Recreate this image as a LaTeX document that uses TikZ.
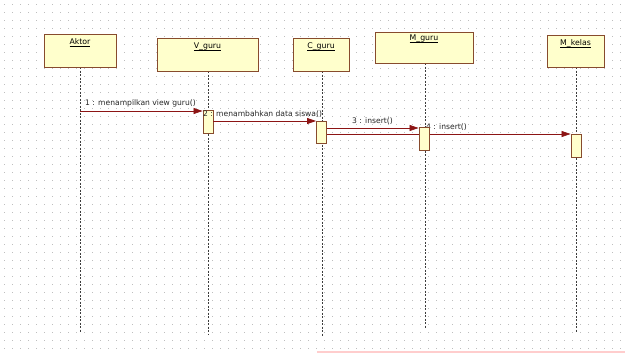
\documentclass[tikz,border=0pt]{standalone}
\usepackage{amsmath}
\usepackage{fontspec}
\setmainfont{DejaVu Sans}
\usetikzlibrary{arrows.meta}
\definecolor{boxfill}{RGB}{255,255,204}
\definecolor{boxedge}{RGB}{135,75,45}
\definecolor{msgred}{RGB}{140,20,20}
\definecolor{griddot}{RGB}{190,190,190}
\definecolor{lifegray}{RGB}{60,60,60}
\definecolor{pinkline}{RGB}{255,205,205}
\tikzset{
  objbox/.style={draw=boxedge, fill=boxfill, line width=0.9pt, inner sep=0pt},
  objlabel/.style={font=\fontsize{7.8}{9}\selectfont, text=black, inner sep=0pt, anchor=north},
  actbox/.style={draw=boxedge, fill=boxfill, line width=0.9pt, minimum width=10pt, inner sep=0pt},
  lifeline/.style={draw=lifegray, line width=0.7pt, dash pattern=on 2pt off 1.5pt},
  msg/.style={draw=msgred, line width=0.7pt, -{Triangle[length=9pt,width=6pt]}},
  msglabel/.style={font=\fontsize{7.6}{9}\selectfont, text=black!85, inner sep=0pt, anchor=south west},
}
\newcommand{\ul}[1]{\underline{\smash[b]{#1}}}
\begin{document}
\begin{tikzpicture}[x=1pt,y=-1pt]
\useasboundingbox (0,0) rectangle (625,354);
\fill[white] (0,0) rectangle (625,354);
% dotted grid
\foreach \yy in {4,12,...,348}{
  \draw[griddot, line width=0.8pt, dash pattern=on 0.8pt off 7.2pt] (4,\yy) -- (625,\yy);
}
\draw[pinkline, line width=2pt] (317,352) -- (625,352);
% lifelines
\draw[lifeline] (80,67) -- (80,332);
\draw[lifeline] (208,71) -- (208,335);
\draw[lifeline] (322,71) -- (322,336);
\draw[lifeline] (425,63) -- (425,329);
\draw[lifeline] (576,67) -- (576,332);
% object boxes
\node[objbox, minimum width=72pt, minimum height=33pt] (aktor) at (80,50.5) {};
\node[objlabel] (laktor) at ([yshift=-5pt]aktor.north) {\ul{Aktor}};
\node[objbox, minimum width=101pt, minimum height=33pt] (vguru) at (207.5,54.5) {};
\node[objlabel] (lvguru) at ([yshift=-5pt]vguru.north) {\ul{V\_guru}};
\node[objbox, minimum width=56pt, minimum height=33pt] (cguru) at (321,54.5) {};
\node[objlabel] (lcguru) at ([yshift=-5pt]cguru.north) {\ul{C\_guru}};
\node[objbox, minimum width=98pt, minimum height=31pt] (mguru) at (424,47.5) {};
\node[objlabel] (lmguru) at ([yshift=-3pt]mguru.north) {\ul{M\_guru}};
\node[objbox, minimum width=57pt, minimum height=32pt] (mkelas) at (575.5,51) {};
\node[objlabel] (lmkelas) at ([yshift=-5pt]mkelas.north) {\ul{M\_kelas}};
% activations
\node[actbox, minimum height=23pt] (act1) at (208,121.5) {};
\node[actbox, minimum height=22pt] (act2) at (321.5,132) {};
\node[actbox, minimum height=23pt] (act3) at (424,138.5) {};
\node[actbox, minimum height=23pt] (act4) at (576,145.5) {};
% messages
\coordinate (m1s) at (80,111);
\draw[msg] (m1s) -- (m1s -| act1.west);
\node[msglabel] (l1) at (85,107) {1 : menampilkan view guru()};
\coordinate (m2s) at (act1.east |- 0,121);
\draw[msg] (m2s) -- (m2s -| act2.west);
\node[msglabel] (l2) at (203,118) {2 : menambahkan data siswa()};
\coordinate (m3s) at (act2.east |- 0,128);
\draw[msg] (m3s) -- (m3s -| act3.west);
\node[msglabel] (l3) at (352,125) {3 : insert()};
\coordinate (m4s) at (act2.east |- 0,134);
\draw[msg] (m4s) -- (m4s -| act4.west);
\node[msglabel] (l4) at (426,131) {4 : insert()};
% redraw activation on top of message 4
\node[actbox, minimum height=23pt] at (act3) {};
\end{tikzpicture}
\end{document}
